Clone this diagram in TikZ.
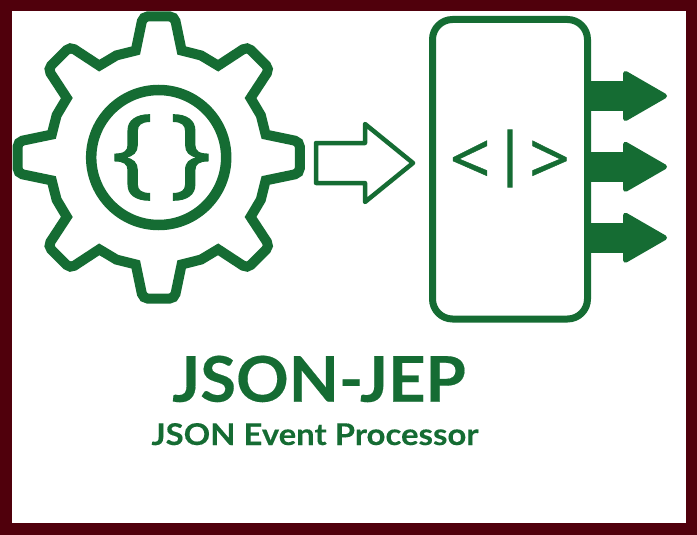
\documentclass[tikz,border=0pt]{standalone}
\usepackage{fontspec}
\setmainfont{Lato}
\newfontfamily\titlefont{Lato}[BoldFont=*,UprightFont=* Bold,FakeBold=0.25]
\newfontfamily\symbold{Open Sans}[FakeBold=0.6]
\newfontfamily\barfont{Open Sans}[FakeBold=2]
\newfontfamily\bracefont{Open Sans}[FakeBold=1.2]
\definecolor{jgreen}{HTML}{156C33}
\definecolor{jborder}{HTML}{50000C}
\tikzset{
  frameline/.style={fill=jborder,draw=none},
  gearline/.style={draw=jgreen,line width=10pt,line join=miter,miter limit=10},
  ringline/.style={draw=jgreen,line width=10.5pt},
  boxline/.style={draw=jgreen,line width=7pt,rounded corners=20pt},
  hollowarrow/.style={draw=jgreen,line width=4.5pt,line join=round,fill=white},
  solidarrow/.style={draw=jgreen,fill=jgreen,line width=5pt,line join=round},
  greentext/.style={text=jgreen,inner sep=0pt,outer sep=0pt},
}
\begin{document}
\begin{tikzpicture}[x=1pt,y=-1pt]
\useasboundingbox (0,0) rectangle (697,535);
\fill[frameline] (0,0) rectangle (697,535);
\fill[white] (12,11) rectangle (686,523);
% gear
\coordinate (gc) at (158.7,157.5);
\begin{scope}[shift={(gc)}]
\draw[gearline] (-90+12.1:109.4)
  \foreach \a in {-90,-45,...,225} {
     -- ({\a+22.5}:110.5) -- ({\a+45-12.1}:109.4)
     [rounded corners=5pt] -- ({\a+45-6.4}:142) -- ({\a+45+6.4}:142) [sharp corners]
     -- ({\a+45+12.1}:109.4)
  } -- cycle;
\end{scope}
\node[circle,ringline,minimum size=135pt,inner sep=0pt,outer sep=0pt] (ring) at (gc) {};
\node[greentext,font=\bracefont\fontsize{98}{98}\selectfont,anchor=center] (lb) at (132.5,157.5) {\scalebox{1.12}[1]{\{}};
\node[greentext,font=\bracefont\fontsize{98}{98}\selectfont,anchor=center] (rb) at (190.5,157.5) {\scalebox{1.12}[1]{\}}};
% box
\draw[boxline] (432.5,19.5) rectangle (587.5,319);
\coordinate (bl) at (432.5,163);
\coordinate (br) at (587.5,163);
% hollow arrow
\draw[hollowarrow] (316,143) -- (365,143) -- (365,124) -- (413,163) -- (365,202) -- (365,183) -- (316,183) -- cycle;
% inner symbols
\node[greentext,font=\symbold\fontsize{72}{72}\selectfont] (lt) at (470,162.5) {<};
\node[greentext,font=\barfont\fontsize{57}{57}\selectfont] (bar) at (510,158.5) {|};
\node[greentext,font=\symbold\fontsize{72}{72}\selectfont] (gt) at (549.5,162.5) {>};
% output arrows
\foreach \y in {96,166.8,237.7}{
  \fill[jgreen] (589,\y-15) rectangle (630,\y+15);
  \draw[solidarrow] (625.5,\y-22.5) -- (664.5,\y) -- (625.5,\y+22.5) -- cycle;
}
% titles
\node[greentext,font=\titlefont\fontsize{63}{63}\selectfont,anchor=base] (title) at (319,401.7) {\scalebox{1.035}[1]{JSON-JEP}};
\node[greentext,font=\titlefont\fontsize{30}{30}\selectfont,anchor=base] (sub) at (315,445) {\scalebox{1.095}[1]{JSON Event Processor}};
\end{tikzpicture}
\end{document}
